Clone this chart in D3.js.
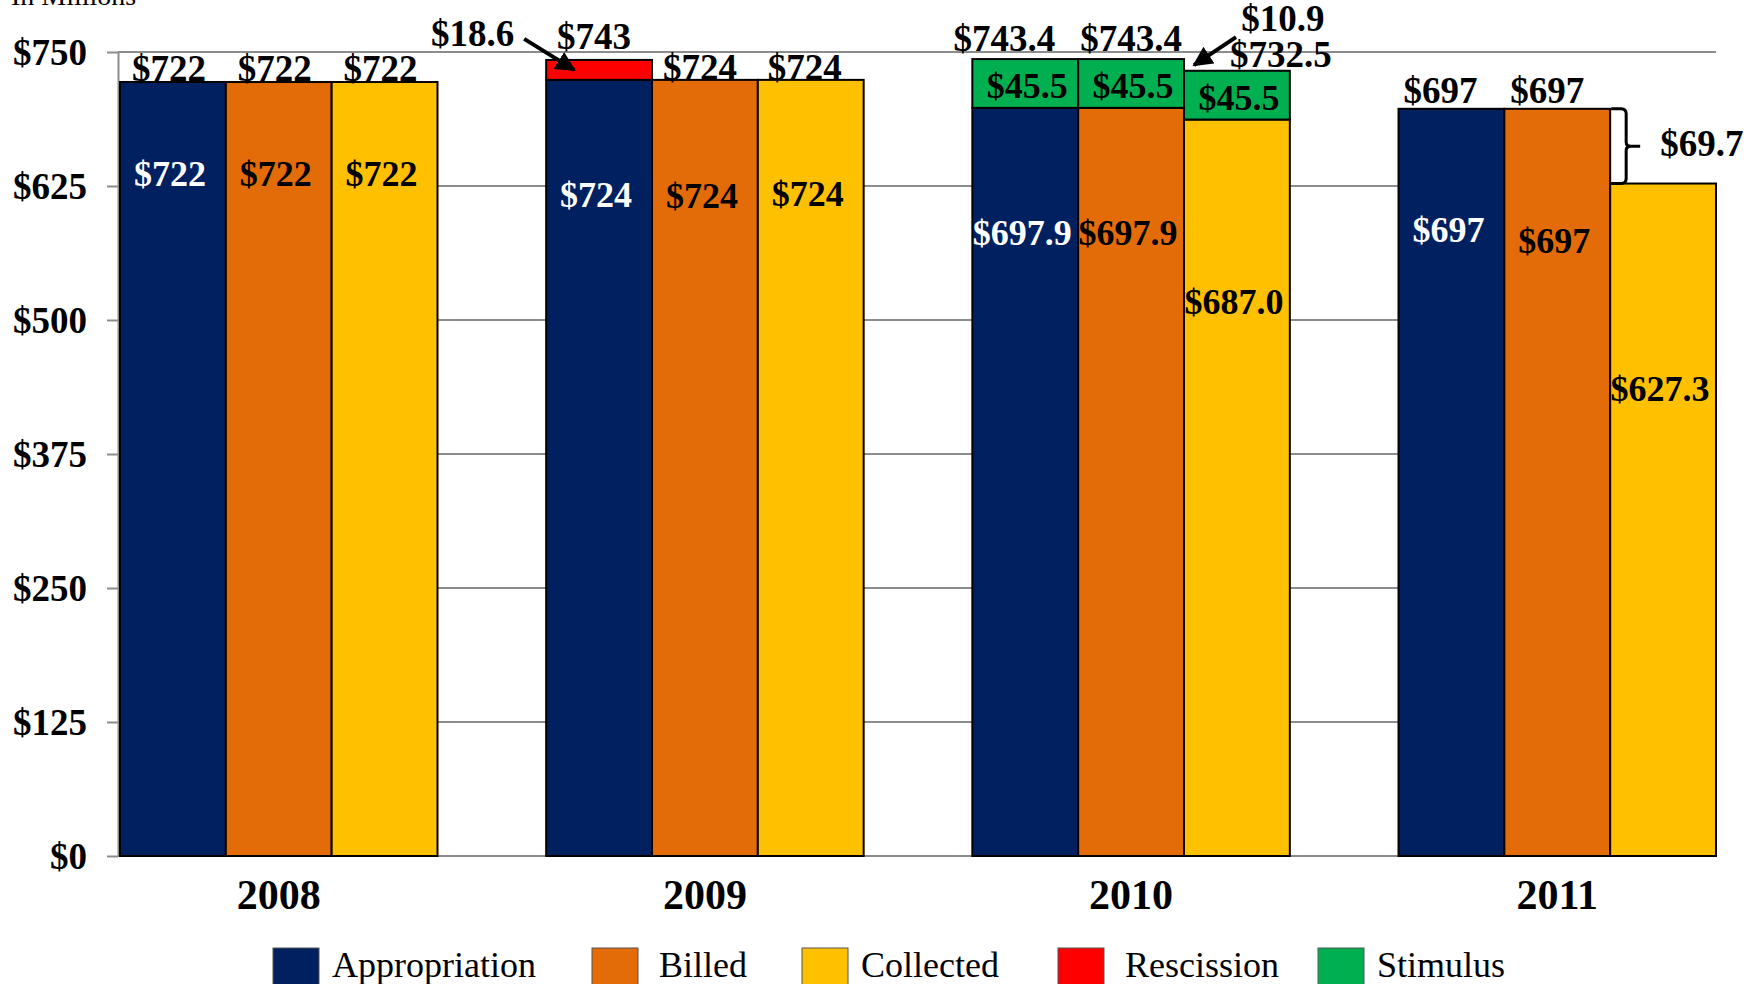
<!DOCTYPE html>
<html>
<head>
<meta charset="utf-8">
<script src="https://cdn.jsdelivr.net/npm/d3@7"></script>
<style>
  body { margin: 0; background: #fff; }
  svg { display: block; font-family: "Liberation Serif", "Times New Roman", serif; }
</style>
</head>
<body>
<svg id="chart" width="1759" height="984"></svg>
<script>
// values, in millions
var years = ['2008', '2009', '2010', '2011']
var series = ['Appropriation', 'Billed', 'Collected']
var appropriation = [722, 724, 697.9, 697]
var billed = [722, 724, 697.9, 697]
var collected = [722, 724, 687.0, 627.3]
var rescission = [0, 18.6, 0, 0]     // stacked on the appropriation bar
var stimulus = [0, 0, 45.5, 0]       // stacked on every bar of that year
var yTicks = [0, 125, 250, 375, 500, 625, 750]
var legendItems = ['Appropriation', 'Billed', 'Collected', 'Rescission', 'Stimulus']

var colors = {
    Appropriation: '#002060',
    Billed: '#E36C09',
    Collected: '#FFC000',
    Rescission: '#FF0000',
    Stimulus: '#00B050'
}

var svg = d3.select('#chart')

var x0 = d3.scaleBand().domain(years).range([120, 1716]).paddingInner(0.255).paddingOuter(0)
var x1 = d3.scaleBand().domain(series).range([0, x0.bandwidth()])
var y = d3.scaleLinear().domain([0, 750]).range([856, 52])

// build the bars
var base = { Appropriation: appropriation, Billed: billed, Collected: collected }
var bars = []
years.forEach((yr, i) => {
    series.forEach((s, j) => {
        let v = base[s][i]
        let top = v
        let segs = [{ from: 0, to: v, color: colors[s] }]
        if (s === 'Appropriation' && rescission[i] > 0) {
            segs.push({ from: v, to: v + rescission[i], color: colors.Rescission, kind: 'resc' })
            top = v + rescission[i]
        }
        if (stimulus[i] > 0) {
            segs.push({ from: v, to: v + stimulus[i], color: colors.Stimulus, kind: 'stim' })
            top = v + stimulus[i]
        }
        bars.push({ year: yr, i: i, j: j, series: s, value: v, top: top, segs: segs,
            x: x0(yr) + x1(s), w: x1.bandwidth() })
    })
})

// grid
svg.append('g')
    .selectAll('line')
    .data(yTicks)
    .enter().append('line')
    .attr('x1', 118).attr('x2', 1716)
    .attr('y1', d => y(d)).attr('y2', d => y(d))
    .style('stroke', '#8c8c8c')
    .style('stroke-width', 2)

// axis
var axis = svg.append('g')
    .attr('transform', 'translate(118,0)')
    .call(d3.axisLeft(y).tickValues(yTicks).tickSize(11).tickSizeOuter(0).tickPadding(20)
        .tickFormat(d => '$' + d))
axis.select('.domain').style('stroke', '#8c8c8c').style('stroke-width', 2)
axis.selectAll('.tick line').style('stroke', '#8c8c8c').style('stroke-width', 2)
axis.selectAll('.tick text')
    .style('font-family', '"Liberation Serif", "Times New Roman", serif')
    .style('font-size', '37px').style('font-weight', 'bold').style('fill', '#000')
    .attr('dy', '0.33em')

// bar segments
var segData = []
bars.forEach(b => b.segs.forEach(sg => segData.push(Object.assign({ bar: b }, sg))))
svg.append('g')
    .selectAll('rect')
    .data(segData)
    .enter().append('rect')
    .attr('x', d => d.bar.x)
    .attr('width', d => d.bar.w)
    .attr('y', d => y(d.to))
    .attr('height', d => y(d.from) - y(d.to))
    .style('fill', d => d.color)
    .style('stroke', '#000')
    .style('stroke-width', 2)

function money(v, dec) { return '$' + v.toFixed(dec) }

// labels inside bars (px below the top of the base bar)
var innerDy = [[92, 92, 92], [115, 116, 114], [125, 125, 182], [121, 132, 205]]
svg.append('g')
    .selectAll('text')
    .data(bars)
    .enter().append('text')
    .attr('x', d => d.x + d.w / 2 - 3)
    .attr('y', d => y(d.value) + innerDy[d.i][d.j] + 12)
    .attr('text-anchor', 'middle')
    .style('font-size', '36px').style('font-weight', 'bold')
    .style('fill', d => d.series === 'Appropriation' ? '#fff' : '#000')
    .text(d => money(d.value, (d.i === 2 || !Number.isInteger(d.value)) ? 1 : 0))

// stimulus labels
svg.append('g')
    .selectAll('text')
    .data(segData.filter(d => d.kind === 'stim'))
    .enter().append('text')
    .attr('x', d => d.bar.x + d.bar.w / 2 + 2)
    .attr('y', d => (y(d.from) + y(d.to)) / 2 + 15)
    .attr('text-anchor', 'middle')
    .style('font-size', '36px').style('font-weight', 'bold')
    .text(d => money(d.to - d.from, 1))

// totals above bars
var topDx = [[-4, -4, -4], [-5, -5, -6], [-21, 0, 44], [-11, -10, 0]]
var topDy = [[-1, -1, -1], [-11, 0, 0], [-8, -8, -4], [-6, -6, 0]]
svg.append('g')
    .selectAll('text')
    .data(bars.filter(d => !(d.i === 3 && d.series === 'Collected')))
    .enter().append('text')
    .attr('x', d => d.x + d.w / 2 + topDx[d.i][d.j])
    .attr('y', d => y(d.top) + topDy[d.i][d.j])
    .attr('text-anchor', 'middle')
    .style('font-size', '37px').style('font-weight', 'bold')
    .text(d => money(d.i === 2 ? d.top : Math.round(d.top), d.i === 2 ? 1 : 0))

// arrow marker
svg.append('defs').append('marker')
    .attr('id', 'arrow')
    .attr('viewBox', '0 0 10 10')
    .attr('refX', 9).attr('refY', 5)
    .attr('markerWidth', 5).attr('markerHeight', 5)
    .attr('orient', 'auto')
    .append('path').attr('d', 'M0,0 L10,5 L0,10 z').style('fill', '#000')

var note = svg.append('g')

// rescission note (2009)
var appr09 = bars.find(b => b.i === 1 && b.series === 'Appropriation')
var tip1 = [appr09.x + 28, y(appr09.value + rescission[1] / 2)]
note.append('line')
    .attr('x1', tip1[0] - 50).attr('y1', tip1[1] - 31)
    .attr('x2', tip1[0]).attr('y2', tip1[1])
    .style('stroke', '#000').style('stroke-width', 4)
    .attr('marker-end', 'url(#arrow)')
note.append('text')
    .attr('x', tip1[0] - 60).attr('y', tip1[1] - 24)
    .attr('text-anchor', 'end')
    .style('font-size', '37px').style('font-weight', 'bold')
    .text(money(rescission[1], 1))

// gap note (2010)
var coll10 = bars.find(b => b.i === 2 && b.series === 'Collected')
var bill10 = bars.find(b => b.i === 2 && b.series === 'Billed')
var tip2 = [coll10.x + 10, y(bill10.top) + 6]
note.append('line')
    .attr('x1', tip2[0] + 42).attr('y1', tip2[1] - 28)
    .attr('x2', tip2[0]).attr('y2', tip2[1])
    .style('stroke', '#000').style('stroke-width', 4)
    .attr('marker-end', 'url(#arrow)')
note.append('text')
    .attr('x', coll10.x + coll10.w / 2 + 46).attr('y', y(coll10.top) - 40)
    .attr('text-anchor', 'middle')
    .style('font-size', '37px').style('font-weight', 'bold')
    .text(money(bill10.top - coll10.top, 1))

// collection shortfall brace (2011)
var bill11 = bars.find(b => b.i === 3 && b.series === 'Billed')
var coll11 = bars.find(b => b.i === 3 && b.series === 'Collected')
var bx = bill11.x + bill11.w + 1
var yT = y(bill11.value), yB = y(coll11.value), yM = (yT + yB) / 2
note.append('path')
    .attr('d', `M${bx},${yT} H${bx + 10} Q${bx + 15},${yT} ${bx + 15},${yT + 5} V${yM - 4}
        Q${bx + 15},${yM} ${bx + 20},${yM} H${bx + 29} M${bx + 20},${yM}
        Q${bx + 15},${yM} ${bx + 15},${yM + 4} V${yB - 5} Q${bx + 15},${yB} ${bx + 10},${yB} H${bx}`)
    .style('fill', 'none').style('stroke', '#000').style('stroke-width', 3)
note.append('text')
    .attr('x', bx + 49).attr('y', yM + 10)
    .style('font-size', '37px').style('font-weight', 'bold')
    .text(money(bill11.value - coll11.value, 1))

// year labels
svg.append('g')
    .selectAll('text')
    .data(years)
    .enter().append('text')
    .attr('x', d => x0(d) + x0.bandwidth() / 2)
    .attr('y', 909)
    .attr('text-anchor', 'middle')
    .style('font-size', '42px').style('font-weight', 'bold')
    .text(d => d)

// units
svg.append('text')
    .attr('x', 11).attr('y', 5)
    .style('font-size', '28px')
    .text('In Millions')

// legend
var legendX = [273, 592, 802, 1058, 1318]
var legend = svg.append('g')
    .selectAll('g')
    .data(legendItems)
    .enter().append('g')
    .attr('transform', (d, i) => `translate(${legendX[i]},948)`)
legend.append('rect')
    .attr('width', 46).attr('height', 46)
    .style('fill', d => colors[d])
    .style('stroke', '#555').style('stroke-width', 1)
legend.append('text')
    .attr('x', (d, i) => i === 1 || i === 3 ? 67 : 59)
    .attr('y', 29)
    .style('font-size', '36px')
    .text(d => d)
</script>
</body>
</html>
